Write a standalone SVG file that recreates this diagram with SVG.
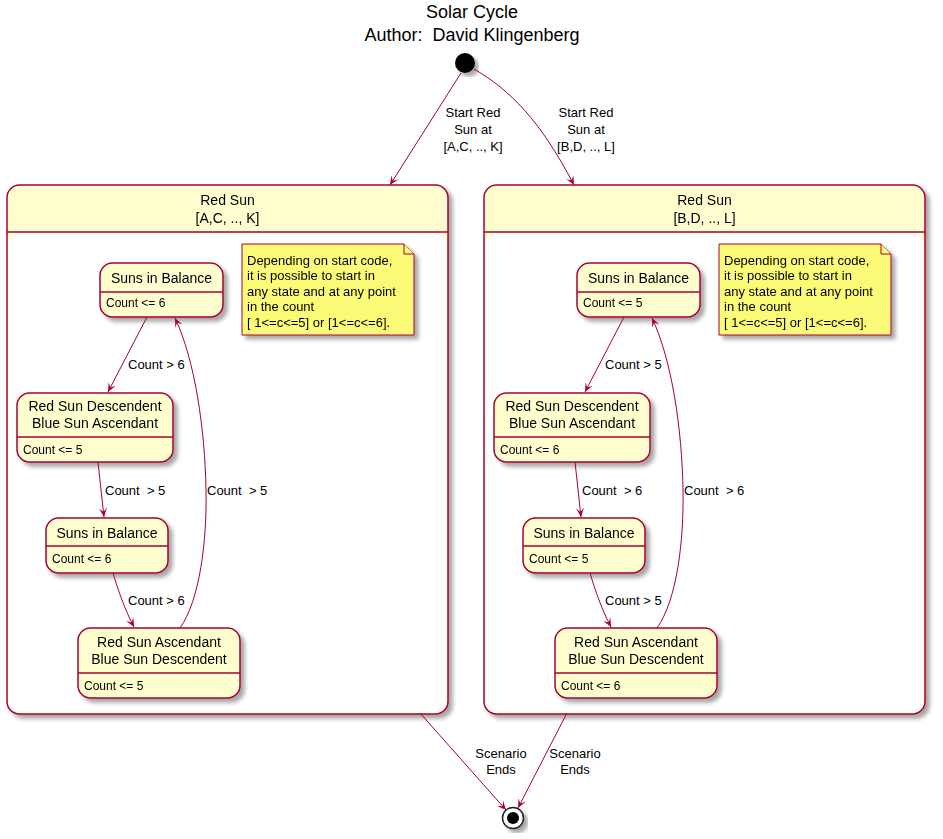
<svg xmlns="http://www.w3.org/2000/svg" width="943" height="839" viewBox="0 0 943 839">
<defs>
<filter id="sh" x="-10%" y="-10%" width="130%" height="130%">
<feGaussianBlur in="SourceAlpha" stdDeviation="2"/>
<feOffset dx="4" dy="4" result="o"/>
<feComponentTransfer><feFuncA type="linear" slope="0.35"/></feComponentTransfer>
<feMerge><feMergeNode/><feMergeNode in="SourceGraphic"/></feMerge>
</filter>
<marker id="arr" viewBox="-10 -5 11 10" refX="0" refY="0" markerWidth="11" markerHeight="10" markerUnits="userSpaceOnUse" orient="auto">
<path d="M0,0 L-9,-4 L-5,0 L-9,4 Z" fill="#A80036"/>
</marker>
</defs>
<style>
text{font-family:"Liberation Sans",Arial,sans-serif;fill:#000;white-space:pre}
.title{font-size:18px;text-anchor:middle}
.st{fill:#FEFECE;stroke:#A80036;stroke-width:1.5}
.ln{stroke:#A80036;stroke-width:1.5}
.nt{font-size:14px;text-anchor:middle}
.cnt{font-size:12px}
.lbl{font-size:13px}
.lblc{font-size:13px;text-anchor:middle}
.note{fill:#FBFB77;stroke:#A80036;stroke-width:1}
.e{fill:none;stroke:#A80036;stroke-width:1;marker-end:url(#arr)}
</style>
<g id="title">
<text class="title" x="472" y="18">Solar Cycle</text>
<text class="title" x="472" y="41">Author:  David Klingenberg</text>
</g>
<g id="start" filter="url(#sh)"><circle cx="465" cy="63" r="10" fill="#000"/></g>

<g id="compLeft" filter="url(#sh)">
<rect class="st" x="7" y="185" width="441" height="529" rx="12.5"/>
<rect x="8.5" y="233" width="438" height="479.5" rx="11" fill="#fff"/>
<line class="ln" x1="7" y1="232" x2="448" y2="232"/>
<text class="nt" x="227.5" y="205">Red Sun</text>
<text class="nt" x="227.5" y="223">[A,C, .., K]</text>
</g>
<g id="compRight" filter="url(#sh)">
<rect class="st" x="484" y="185" width="441" height="529" rx="12.5"/>
<rect x="485.5" y="233" width="438" height="479.5" rx="11" fill="#fff"/>
<line class="ln" x1="484" y1="232" x2="925" y2="232"/>
<text class="nt" x="704.5" y="205">Red Sun</text>
<text class="nt" x="704.5" y="223">[B,D, .., L]</text>
</g>

<g id="noteLeft" filter="url(#sh)">
<path class="note" d="M242,244 L404,244 L414,254 L414,335 L242,335 Z"/>
<path class="note" d="M404,244 L404,254 L414,254"/>
<text class="lbl" x="247" y="264.5">Depending on start code,</text>
<text class="lbl" x="247" y="279.5">it is possible to start in</text>
<text class="lbl" x="247" y="295.5">any state and at any point</text>
<text class="lbl" x="247" y="310.5">in the count</text>
<text class="lbl" x="247" y="326.5">[ 1&lt;=c&lt;=5] or [1&lt;=c&lt;=6].</text>
</g>
<g id="noteRight" filter="url(#sh)">
<path class="note" d="M719,244 L881,244 L891,254 L891,335 L719,335 Z"/>
<path class="note" d="M881,244 L881,254 L891,254"/>
<text class="lbl" x="724" y="264.5">Depending on start code,</text>
<text class="lbl" x="724" y="279.5">it is possible to start in</text>
<text class="lbl" x="724" y="295.5">any state and at any point</text>
<text class="lbl" x="724" y="310.5">in the count</text>
<text class="lbl" x="724" y="326.5">[ 1&lt;=c&lt;=5] or [1&lt;=c&lt;=6].</text>
</g>

<g id="L1" filter="url(#sh)">
<rect class="st" x="100" y="263" width="123" height="54" rx="12.5"/>
<line class="ln" x1="100" y1="292" x2="223" y2="292"/>
<text class="nt" x="161.5" y="283">Suns in Balance</text>
<text class="cnt" x="106" y="307">Count &lt;= 6</text>
</g>
<g id="L2" filter="url(#sh)">
<rect class="st" x="17" y="393" width="156" height="69" rx="12.5"/>
<line class="ln" x1="17" y1="437" x2="173" y2="437"/>
<text class="nt" x="95" y="411">Red Sun Descendent</text>
<text class="nt" x="95" y="428">Blue Sun Ascendant</text>
<text class="cnt" x="23" y="454">Count &lt;= 5</text>
</g>
<g id="L3" filter="url(#sh)">
<rect class="st" x="46" y="518" width="122" height="55" rx="12.5"/>
<line class="ln" x1="46" y1="546" x2="168" y2="546"/>
<text class="nt" x="107" y="538">Suns in Balance</text>
<text class="cnt" x="52" y="563">Count &lt;= 6</text>
</g>
<g id="L4" filter="url(#sh)">
<rect class="st" x="78" y="628" width="162" height="70" rx="12.5"/>
<line class="ln" x1="78" y1="673" x2="240" y2="673"/>
<text class="nt" x="159" y="647">Red Sun Ascendant</text>
<text class="nt" x="159" y="664">Blue Sun Descendent</text>
<text class="cnt" x="84" y="690">Count &lt;= 5</text>
</g>

<g id="R1" filter="url(#sh)">
<rect class="st" x="577" y="263" width="123" height="54" rx="12.5"/>
<line class="ln" x1="577" y1="292" x2="700" y2="292"/>
<text class="nt" x="638.5" y="283">Suns in Balance</text>
<text class="cnt" x="583" y="307">Count &lt;= 5</text>
</g>
<g id="R2" filter="url(#sh)">
<rect class="st" x="494" y="393" width="156" height="69" rx="12.5"/>
<line class="ln" x1="494" y1="437" x2="650" y2="437"/>
<text class="nt" x="572" y="411">Red Sun Descendent</text>
<text class="nt" x="572" y="428">Blue Sun Ascendant</text>
<text class="cnt" x="500" y="454">Count &lt;= 6</text>
</g>
<g id="R3" filter="url(#sh)">
<rect class="st" x="523" y="518" width="122" height="55" rx="12.5"/>
<line class="ln" x1="523" y1="546" x2="645" y2="546"/>
<text class="nt" x="584" y="538">Suns in Balance</text>
<text class="cnt" x="529" y="563">Count &lt;= 5</text>
</g>
<g id="R4" filter="url(#sh)">
<rect class="st" x="555" y="628" width="162" height="70" rx="12.5"/>
<line class="ln" x1="555" y1="673" x2="717" y2="673"/>
<text class="nt" x="636" y="647">Red Sun Ascendant</text>
<text class="nt" x="636" y="664">Blue Sun Descendent</text>
<text class="cnt" x="561" y="690">Count &lt;= 6</text>
</g>

<g id="end" filter="url(#sh)">
<circle cx="513" cy="818" r="10.5" fill="#fff" stroke="#222" stroke-width="1.5"/>
<circle cx="513" cy="818" r="6" fill="#000"/>
</g>

<g id="connectors">
<path class="e" d="M461,73 L390,185"/>
<path class="e" d="M474,69 C510,90 540,120 574,185"/>
<path class="e" d="M147,317 L108,392"/>
<path class="e" d="M98,462 L104,517"/>
<path class="e" d="M113,573 C118,590 125,610 134,627"/>
<path class="e" d="M180,628 C200,600 207,540 206,490 C205,430 195,360 175,318"/>
<path class="e" d="M624,317 L585,392"/>
<path class="e" d="M575,462 L581,517"/>
<path class="e" d="M590,573 C595,590 602,610 611,627"/>
<path class="e" d="M657,628 C677,600 684,540 683,490 C682,430 672,360 652,318"/>
<path class="e" d="M420,713 L506,810"/>
<path class="e" d="M567,713 L518,808"/>
<text class="lblc" x="473" y="116.5">Start Red</text>
<text class="lblc" x="473" y="133.5">Sun at</text>
<text class="lblc" x="473" y="150.5">[A,C, .., K]</text>
<text class="lblc" x="586" y="116.5">Start Red</text>
<text class="lblc" x="586" y="133.5">Sun at</text>
<text class="lblc" x="586" y="150.5">[B,D, .., L]</text>
<text class="lbl" x="128" y="368.5">Count &gt; 6</text>
<text class="lbl" x="105" y="494.5">Count  &gt; 5</text>
<text class="lbl" x="207" y="494.5">Count  &gt; 5</text>
<text class="lbl" x="128" y="604.5">Count &gt; 6</text>
<text class="lbl" x="605" y="368.5">Count &gt; 5</text>
<text class="lbl" x="582" y="494.5">Count  &gt; 6</text>
<text class="lbl" x="684" y="494.5">Count  &gt; 6</text>
<text class="lbl" x="605" y="604.5">Count &gt; 5</text>
<text class="lblc" x="501" y="757.5">Scenario</text>
<text class="lblc" x="501" y="773.5">Ends</text>
<text class="lblc" x="575" y="757.5">Scenario</text>
<text class="lblc" x="575" y="773.5">Ends</text>
</g>
</svg>
